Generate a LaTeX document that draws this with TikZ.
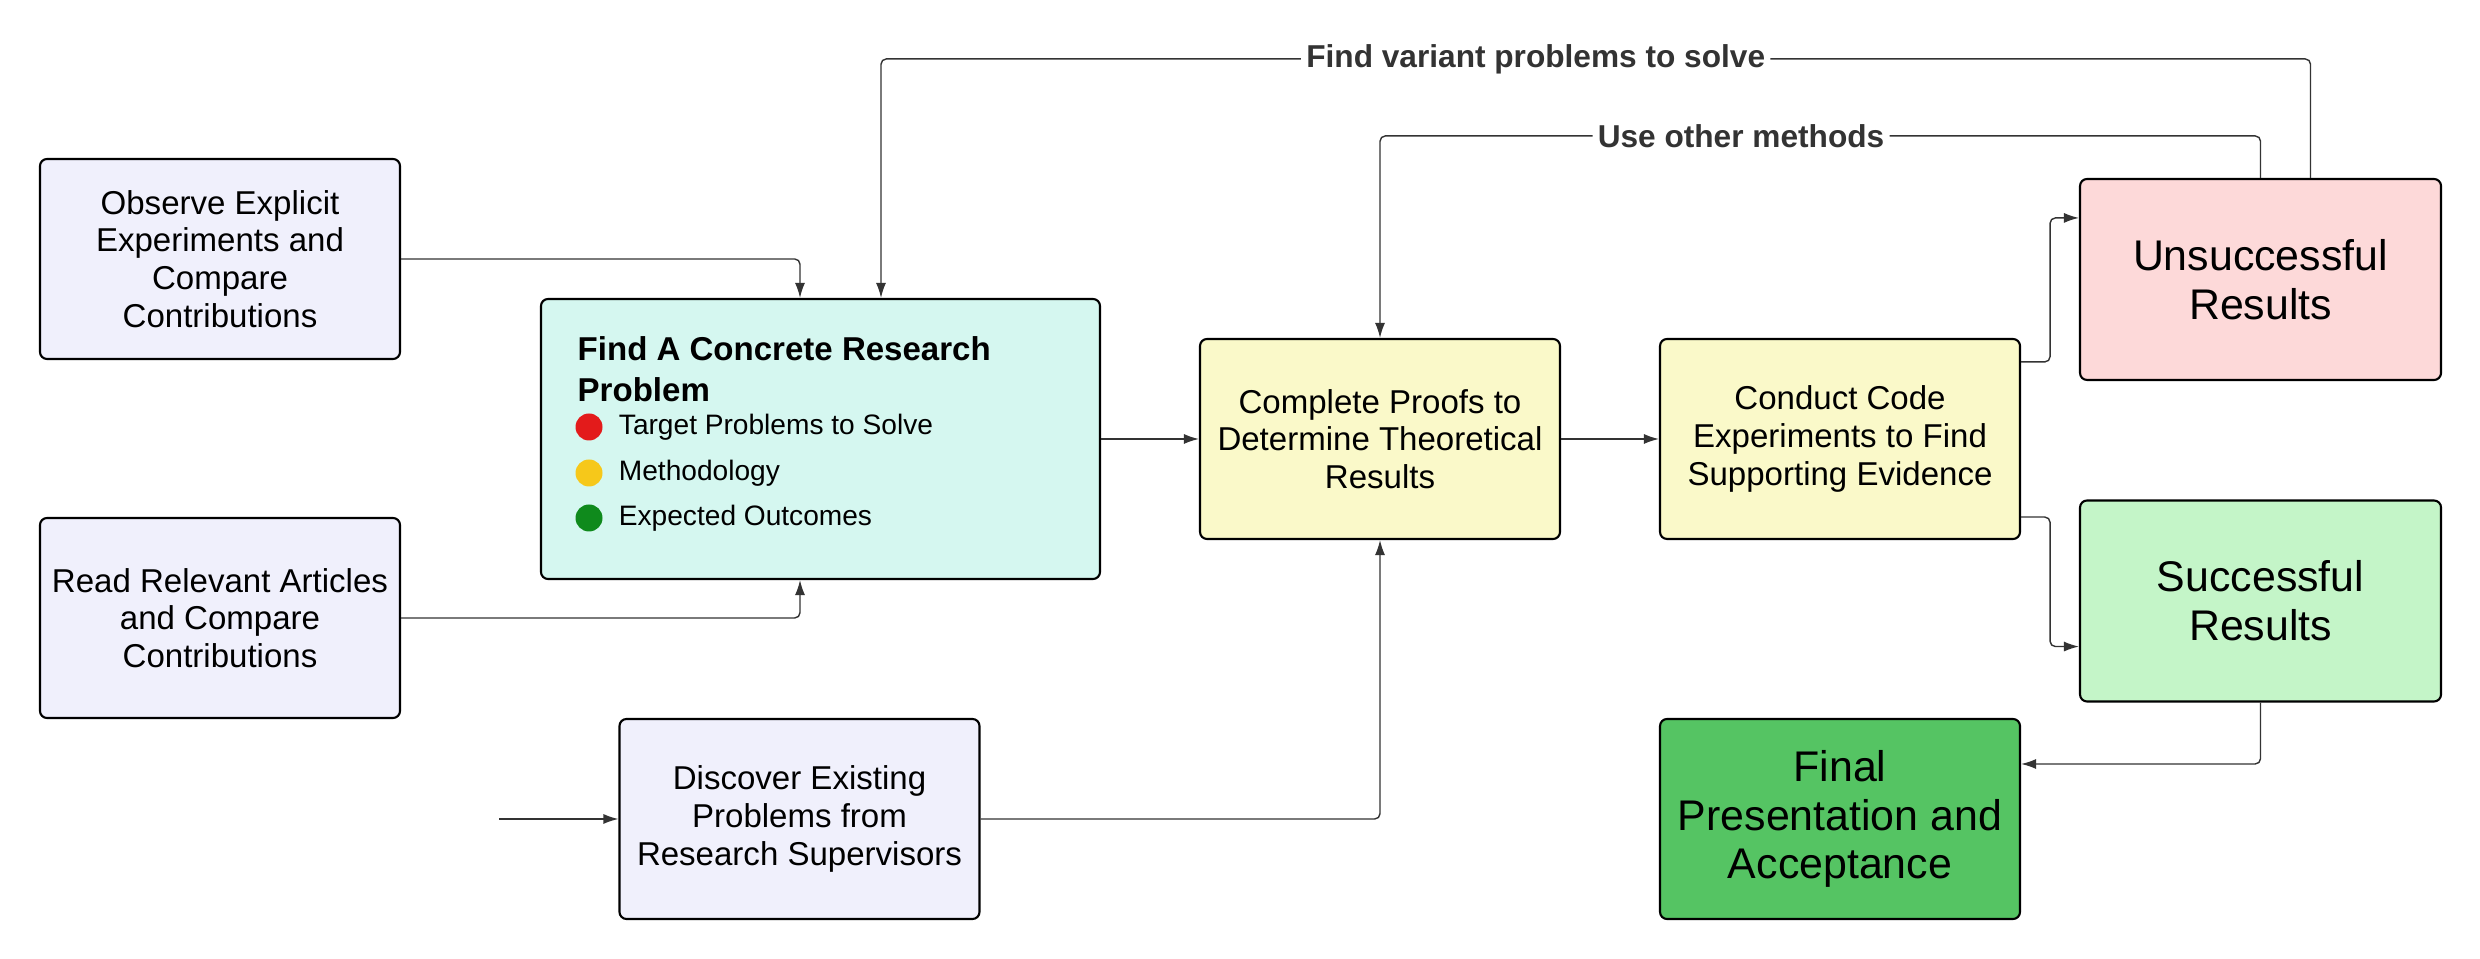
\documentclass[tikz,border=0pt]{standalone}
\usepackage{fontspec}
\setmainfont{Liberation Sans}
\usetikzlibrary{arrows.meta,positioning}

\definecolor{inbox}{HTML}{F0F0FC}
\definecolor{findbox}{HTML}{D5F7F0}
\definecolor{stepfill}{HTML}{FAF9C9}
\definecolor{failfill}{HTML}{FDD9D9}
\definecolor{passfill}{HTML}{C4F5C8}
\definecolor{donefill}{HTML}{55C463}
\definecolor{linegray}{HTML}{333333}
\definecolor{dotred}{HTML}{E31B1B}
\definecolor{dotyellow}{HTML}{F6C81A}
\definecolor{dotgreen}{HTML}{0F8A1C}

\tikzset{
  card/.style={draw=black, line width=0.6pt, rounded corners=2pt, minimum width=3.6cm,
    minimum height=2cm, align=center, inner sep=0pt, font=\fontsize{9.4}{10.7}\selectfont},
  bigcard/.style={card, font=\fontsize{12.2}{13.9}\selectfont},
  link/.style={draw=linegray, line width=0.4pt, rounded corners=1.5pt,
    -{Latex[length=1.5mm,width=1mm]}},
  looplabel/.style={fill=white, text=linegray, inner sep=1.5pt,
    font=\bfseries\fontsize{9}{10}\selectfont},
  dot/.style={circle, inner sep=0pt, minimum size=0.27cm},
  item/.style={inner sep=0pt, font=\fontsize{8}{9}\selectfont}
}

\begin{document}
\begin{tikzpicture}
\useasboundingbox (0,0) rectangle (24.8,9.59);

% Boxes
\node[card, fill=inbox] (observe) at (2.20,7.00) {Observe Explicit\\Experiments and\\Compare\\Contributions};
\node[card, fill=inbox] (read) at (2.20,3.41) {Read Relevant Articles\\and Compare\\Contributions};
\node[card, fill=findbox, minimum width=5.59cm, minimum height=2.8cm] (find) at (8.205,5.20) {};
\node[card, fill=inbox] (discover) at (7.995,1.40) {Discover Existing\\Problems from\\Research Supervisors};
\node[card, fill=stepfill] (proofs) at (13.80,5.20) {Complete Proofs to\\Determine Theoretical\\Results};
\node[card, fill=stepfill] (code) at (18.40,5.20) {Conduct Code\\Experiments to Find\\Supporting Evidence};
\node[bigcard, fill=failfill, minimum width=3.61cm, minimum height=2.01cm] (fail) at (22.605,6.795) {Unsuccessful\\Results};
\node[bigcard, fill=passfill, minimum width=3.61cm, minimum height=2.01cm] (pass) at (22.605,3.58) {Successful\\Results};
\node[bigcard, fill=donefill] (final) at (18.40,1.40) {Final\\Presentation and\\Acceptance};

% Inside the research problem box
\node[anchor=north west, align=left, inner sep=0pt, font=\bfseries\fontsize{9.4}{11.7}\selectfont] (findtitle) at (5.77,6.23) {Find A Concrete Research\\Problem};
\node[dot, fill=dotred] (dotA) at (5.89,5.32) {};
\node[dot, fill=dotyellow] (dotB) at (5.89,4.86) {};
\node[dot, fill=dotgreen] (dotC) at (5.89,4.41) {};
\node[item, right=0.15cm of dotA] (itemA) {Target Problems to Solve};
\node[item, right=0.15cm of dotB] (itemB) {Methodology};
\node[item, right=0.15cm of dotC] (itemC) {Expected Outcomes};

% Connectors
\coordinate (start) at (4.99,1.40);
\draw[link] (start) -- (discover);
\draw[link] (observe.east) -| ([xshift=-0.205cm]find.north);
\draw[link] (read.east) -| ([xshift=-0.205cm]find.south);
\draw[link] (discover.east) -| (proofs.south);
\draw[link] (find) -- (proofs);
\draw[link] (proofs) -- (code);
\draw[link] ([yshift=-0.24cm]code.north east) -- ++(0.29,0) |- ([yshift=-0.40cm]fail.north west);
\draw[link] ([yshift=0.23cm]code.south east) -- ++(0.29,0) |- ([yshift=0.56cm]pass.south west);
\draw[link] (pass.south) |- ([yshift=0.55cm]final.east);
\draw[link] (fail.north) -- ++(0,0.42) -| (proofs.north)
  node[looplabel, pos=0.295] (otherlabel) {Use other methods};
\draw[link] ([xshift=0.5cm]fail.north) -- ++(0,1.19) -| ([xshift=0.605cm]find.north)
  node[looplabel, pos=0.271] (variantlabel) {Find variant problems to solve};
\end{tikzpicture}
\end{document}
